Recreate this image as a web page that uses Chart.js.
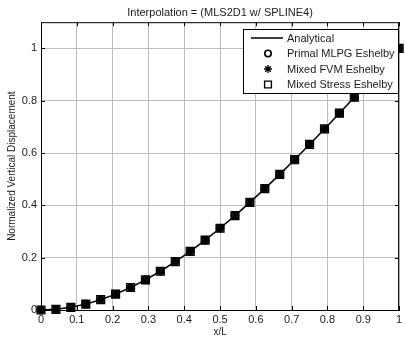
<!DOCTYPE html>
<html><head><meta charset="utf-8">
<script src="https://cdn.jsdelivr.net/npm/chart.js@4"></script>
<style>html,body{margin:0;padding:0;background:#fff;overflow:hidden}#w{width:406px;height:339px;position:relative}</style>
</head><body><div id="w"><canvas id="c"></canvas></div>
<script>
const titleText = 'Interpolation = (MLS2D1 w/ SPLINE4)';
const xAxisTitle = 'x/L';
const yAxisTitle = 'Normalized Vertical Displacement';
const seriesNames = ['Analytical', 'Primal MLPG Eshelby', 'Mixed FVM Eshelby', 'Mixed Stress Eshelby'];

const xValues = [0, 0.0417, 0.0833, 0.125, 0.1667, 0.2083, 0.25, 0.2917, 0.3333, 0.375, 0.4167, 0.4583,
  0.5, 0.5417, 0.5833, 0.625, 0.6667, 0.7083, 0.75, 0.7917, 0.8333, 0.875, 0.9167, 0.9583, 1];
const analytical = [0, 0.0026, 0.0101, 0.0225, 0.0394, 0.0606, 0.0859, 0.1152, 0.1481, 0.1846, 0.2243, 0.2670,
  0.3125, 0.3606, 0.4112, 0.4639, 0.5185, 0.5749, 0.6328, 0.6920, 0.7523, 0.8135, 0.8753, 0.9375, 1];
const primalMLPG = [0, 0.0026, 0.0101, 0.0225, 0.0394, 0.0606, 0.0859, 0.1152, 0.1481, 0.1846, 0.2243, 0.2670,
  0.3125, 0.3606, 0.4112, 0.4639, 0.5185, 0.5749, 0.6328, 0.6920, 0.7523, 0.8135, 0.8753, 0.9375, 1];
const mixedFVM = [0, 0.0026, 0.0101, 0.0225, 0.0394, 0.0606, 0.0859, 0.1152, 0.1481, 0.1846, 0.2243, 0.2670,
  0.3125, 0.3606, 0.4112, 0.4639, 0.5185, 0.5749, 0.6328, 0.6920, 0.7523, 0.8135, 0.8753, 0.9375, 1];
const mixedStress = [0, 0.0026, 0.0101, 0.0225, 0.0394, 0.0606, 0.0859, 0.1152, 0.1481, 0.1846, 0.2243, 0.2670,
  0.3125, 0.3606, 0.4112, 0.4639, 0.5185, 0.5749, 0.6328, 0.6920, 0.7523, 0.8135, 0.8753, 0.9375, 1];

const xTicks = [0, 0.1, 0.2, 0.3, 0.4, 0.5, 0.6, 0.7, 0.8, 0.9, 1];
const yTicks = [0, 0.2, 0.4, 0.6, 0.8, 1];

const FONT = "'Liberation Sans', Arial, sans-serif";
const TXT = '#1a1a1a';

function pts(arr) { return xValues.map((x, i) => ({ x: x, y: arr[i] })); }

const markerSpecs = [
  null,
  { style: 'circle', radius: 3.2, width: 1.6 },
  { style: 'star', radius: 4, width: 1.4 },
  { style: 'rect', radius: 4.8, width: 1.4 }
];

const frameAndLegend = {
  id: 'frameAndLegend',
  afterDraw(chart) {
    const ctx = chart.ctx;
    const a = chart.chartArea;
    const xs = chart.scales.x, ys = chart.scales.y;
    ctx.save();
    ctx.strokeStyle = '#000';
    ctx.lineWidth = 1;
    ctx.beginPath();
    ctx.moveTo(a.left, a.top + 0.5); ctx.lineTo(a.right, a.top + 0.5);
    ctx.moveTo(a.right - 0.5, a.top); ctx.lineTo(a.right - 0.5, a.bottom);
    xTicks.forEach(v => {
      const px = Math.round(xs.getPixelForValue(v)) + 0.5;
      ctx.moveTo(px, a.bottom); ctx.lineTo(px, a.bottom - 4);
      ctx.moveTo(px, a.top); ctx.lineTo(px, a.top + 4);
    });
    yTicks.forEach(v => {
      const py = Math.round(ys.getPixelForValue(v)) + 0.5;
      ctx.moveTo(a.left, py); ctx.lineTo(a.left + 4, py);
      ctx.moveTo(a.right, py); ctx.lineTo(a.right - 4, py);
    });
    ctx.stroke();

    // legend box
    const bx = 243.5, by = 29.5, bw = 155, bh = 64;
    ctx.fillStyle = '#fff';
    ctx.fillRect(bx, by, bw, bh);
    ctx.strokeRect(bx, by, bw, bh);
    ctx.font = '11px ' + FONT;
    ctx.textBaseline = 'middle';
    ctx.textAlign = 'left';
    const rows = [38, 53.5, 69, 84.5];
    seriesNames.forEach((name, i) => {
      const y = rows[i];
      if (i === 0) {
        ctx.beginPath();
        ctx.lineWidth = 1.5;
        ctx.moveTo(251, y); ctx.lineTo(283, y);
        ctx.stroke();
      } else {
        const m = markerSpecs[i];
        ctx.lineWidth = m.width;
        ctx.strokeStyle = '#000';
        ctx.fillStyle = 'rgba(0,0,0,0)';
        Chart.helpers.drawPoint(ctx, { pointStyle: m.style, radius: m.radius, borderWidth: m.width }, 268, y);
      }
      ctx.fillStyle = TXT;
      ctx.fillText(name, 287, y + 0.5);
    });
    ctx.restore();
  }
};

const datasets = [
  { label: seriesNames[0], data: pts(analytical), showLine: true, pointRadius: 0, borderColor: '#000', borderWidth: 1.5, order: 4, clip: false },
  { label: seriesNames[1], data: pts(primalMLPG), showLine: false, pointStyle: 'circle', pointRadius: 3.5, borderWidth: 1.6, borderColor: '#000', backgroundColor: 'rgba(0,0,0,0)', order: 3, clip: false },
  { label: seriesNames[2], data: pts(mixedFVM), showLine: false, pointStyle: 'star', pointRadius: 3.5, borderWidth: 1.8, borderColor: '#000', backgroundColor: 'rgba(0,0,0,0)', order: 2, clip: false },
  { label: seriesNames[3], data: pts(mixedStress), showLine: false, pointStyle: 'rect', pointRadius: 5.5, borderWidth: 1.4, borderColor: '#000', backgroundColor: 'rgba(0,0,0,0)', order: 1, clip: false }
];

new Chart(document.getElementById('c'), {
  type: 'scatter',
  data: { datasets: datasets },
  plugins: [frameAndLegend],
  options: {
    responsive: true,
    maintainAspectRatio: false,
    animation: false,
    devicePixelRatio: 1,
    layout: { padding: { left: 0, right: 2, top: 0, bottom: 0 } },
    plugins: {
      legend: { display: false },
      tooltip: { enabled: false },
      title: { display: true, fullSize: false, text: titleText, color: TXT, font: { family: FONT, size: 11, weight: 'normal' }, padding: { top: 6, bottom: 3 } }
    },
    scales: {
      x: {
        type: 'linear', min: 0, max: 1,
        afterBuildTicks(s) { s.ticks = xTicks.map(v => ({ value: v })); },
        afterFit(s) { s.height = 29; s.paddingLeft = 0; s.paddingRight = 0; },
        ticks: { color: TXT, font: { family: FONT, size: 11 }, padding: 3, maxRotation: 0, autoSkip: false, callback: v => String(v) },
        grid: { color: '#bdbdbd', lineWidth: 1, drawTicks: false },
        border: { display: true, color: '#000', width: 1 },
        title: { display: true, text: xAxisTitle, color: TXT, font: { family: FONT, size: 10 }, padding: { top: 0, bottom: 1 } }
      },
      y: {
        type: 'linear', min: 0, max: 1.1,
        afterBuildTicks(s) { s.ticks = yTicks.map(v => ({ value: v })); },
        afterFit(s) { s.width = 41; s.paddingTop = 0; s.paddingBottom = 0; },
        ticks: { color: TXT, font: { family: FONT, size: 11 }, padding: 4, autoSkip: false, callback: v => String(v) },
        grid: { color: '#bdbdbd', lineWidth: 1, drawTicks: false },
        border: { display: true, color: '#000', width: 1 },
        title: { display: true, text: yAxisTitle, color: TXT, font: { family: FONT, size: 10 }, padding: { top: 6, bottom: 0 } }
      }
    }
  }
});
</script>
</body></html>
